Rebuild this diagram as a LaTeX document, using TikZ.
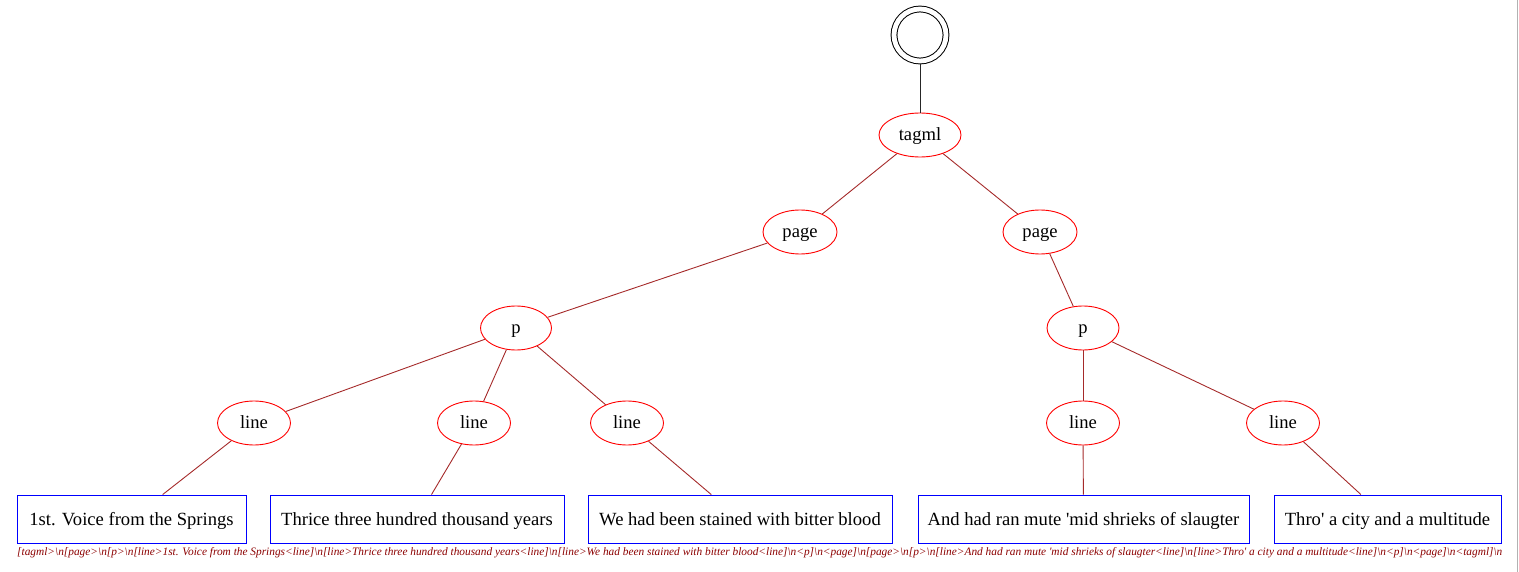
\documentclass[tikz,border=0pt]{standalone}
\usepackage{fontspec}
\setmainfont{Liberation Serif}
\usetikzlibrary{shapes.geometric}
\definecolor{edgecol}{RGB}{165,42,42}
\definecolor{boxblue}{RGB}{0,0,255}
\definecolor{capcol}{RGB}{139,0,0}
\tikzset{
  tag/.style={ellipse, draw=red, line width=0.9pt, minimum height=44pt, minimum width=73pt, inner sep=0pt, text height=14.5pt, text depth=4pt, font=\fontsize{18.6}{21}\selectfont},
  txt/.style={rectangle, draw=boxblue, line width=0.9pt, minimum height=48pt, inner sep=0pt, text height=16pt, text depth=4pt, font=\fontsize{18.6}{21}\selectfont},
  link/.style={draw=edgecol, line width=0.9pt},
  rootlink/.style={draw=black!85, line width=1pt},
  root/.style={circle, draw=black, line width=1pt, double=white, double distance=4.8pt, minimum size=52pt, inner sep=0pt, outer sep=3.4pt}
}
\begin{document}
\begin{tikzpicture}[x=1pt,y=-1pt]
\useasboundingbox (0,0) rectangle (1519,572);
\draw[gray!60, line width=1.2pt] (1517.5,0) -- (1517.5,572);
\node[root] (r) at (920,35) {};
\node[tag, minimum width=82pt] (tagml) at (920,135) {tagml};
\node[tag, minimum width=74pt] (pg1) at (800,232) {page};
\node[tag, minimum width=74pt] (pg2) at (1040,232) {page};
\node[tag, minimum width=71pt] (p1) at (516,328) {p};
\node[tag, minimum width=72pt] (p2) at (1083,328) {p};
\node[tag] (l1) at (254,423) {line};
\node[tag] (l2) at (474,423) {line};
\node[tag] (l3) at (627,423) {line};
\node[tag] (l4) at (1083,423) {line};
\node[tag] (l5) at (1283,423) {line};
\node[txt, minimum width=229pt] (t1) at (131.5,519) {1st. Voice from the Springs};
\node[txt, minimum width=294pt] (t2) at (417,519) {Thrice three hundred thousand years};
\node[txt, minimum width=304pt] (t3) at (740,519) {We had been stained with bitter blood};
\node[txt, minimum width=331pt] (t4) at (1083.5,519) {And had ran mute \textquotesingle mid shrieks of slaugter};
\node[txt, minimum width=227pt] (t5) at (1387.5,519) {Thro\textquotesingle{} a city and a multitude};
\draw[rootlink] (r) -- (tagml);
\draw[link] (tagml) -- (pg1);
\draw[link] (tagml) -- (pg2);
\draw[link] (pg1) -- (p1);
\draw[link] (pg2) -- (p2);
\draw[link] (p1) -- (l1);
\draw[link] (p1) -- (l2);
\draw[link] (p1) -- (l3);
\draw[link] (p2) -- (l4);
\draw[link] (p2) -- (l5);
\draw[link] (l1) -- (t1);
\draw[link] (l2) -- (t2);
\draw[link] (l3) -- (t3);
\draw[link] (l4) -- (t4);
\draw[link] (l5) -- (t5);
\node[anchor=west, inner sep=0pt, text=capcol, font=\fontsize{11.35}{13}\selectfont\itshape] (cap) at (17,553) {[tagml>\textbackslash n[page>\textbackslash n[p>\textbackslash n[line>1st. Voice from the Springs<line]\textbackslash n[line>Thrice three hundred thousand years<line]\textbackslash n[line>We had been stained with bitter blood<line]\textbackslash n<p]\textbackslash n<page]\textbackslash n[page>\textbackslash n[p>\textbackslash n[line>And had ran mute \textquotesingle mid shrieks of slaugter<line]\textbackslash n[line>Thro\textquotesingle{} a city and a multitude<line]\textbackslash n<p]\textbackslash n<page]\textbackslash n<tagml]\textbackslash n};
\end{tikzpicture}
\end{document}
